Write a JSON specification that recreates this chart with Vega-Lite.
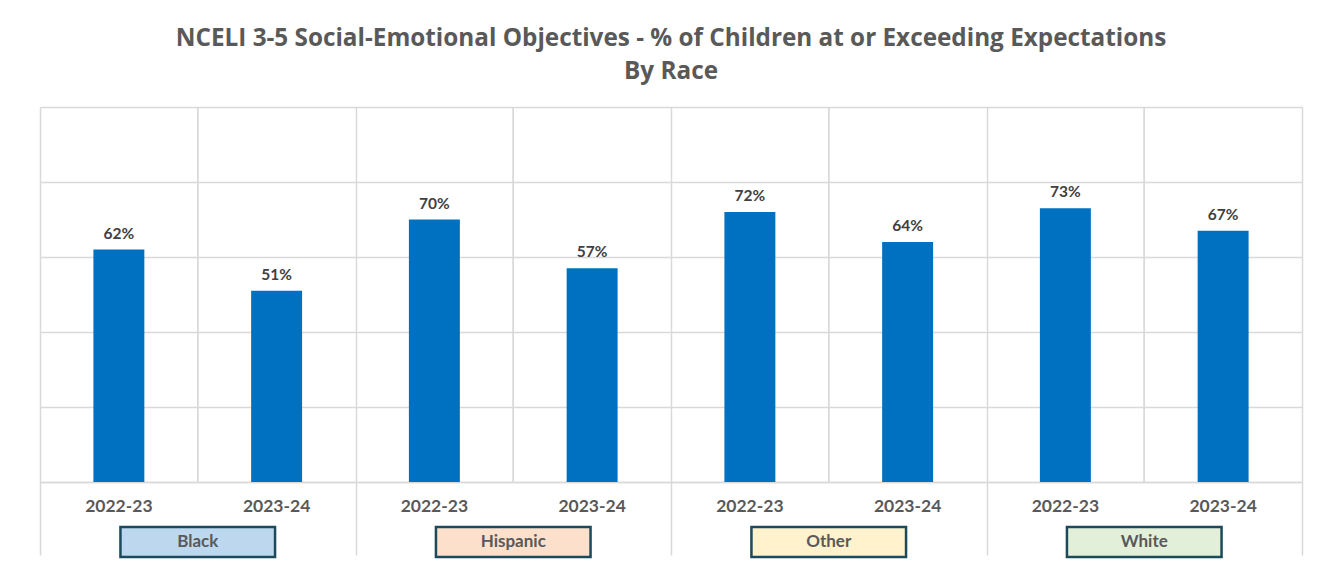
{
  "$schema": "https://vega.github.io/schema/vega-lite/v6.json",
  "autosize": "none",
  "width": 1262,
  "height": 375,
  "padding": {"left": 40, "top": 107, "right": 17, "bottom": 79},
  "background": "white",
  "config": {"view": {"stroke": null}, "font": "Lato"},
  "title": {
    "text": ["NCELI 3-5 Social-Emotional Objectives - % of Children at or Exceeding Expectations", "By Race"],
    "font": "Open Sans",
    "fontSize": 24.3,
    "fontWeight": "bold",
    "color": "#595959",
    "anchor": "middle",
    "lineHeight": 33,
    "offset": 22
  },
  "data": {
    "values": [
      {"race": "Black", "year": "2022-23", "pct": 0.62},
      {"race": "Black", "year": "2023-24", "pct": 0.51},
      {"race": "Hispanic", "year": "2022-23", "pct": 0.70},
      {"race": "Hispanic", "year": "2023-24", "pct": 0.57},
      {"race": "Other", "year": "2022-23", "pct": 0.72},
      {"race": "Other", "year": "2023-24", "pct": 0.64},
      {"race": "White", "year": "2022-23", "pct": 0.73},
      {"race": "White", "year": "2023-24", "pct": 0.67}
    ]
  },
  "encoding": {
    "x": {
      "field": "race",
      "type": "nominal",
      "sort": ["Black", "Hispanic", "Other", "White"],
      "scale": {"paddingInner": 0, "paddingOuter": 0},
      "axis": {
        "title": null,
        "labels": false,
        "tickBand": "extent",
        "ticks": true,
        "tickSize": 73,
        "tickColor": "#d9d9d9",
        "tickWidth": 1.5,
        "grid": true,
        "gridColor": "#d9d9d9",
        "gridWidth": 1.5,
        "domain": true,
        "domainColor": "#d9d9d9",
        "domainWidth": 1.5
      }
    }
  },
  "layer": [
    {
      "mark": {"type": "rule", "color": "#d9d9d9", "strokeWidth": 1.5},
      "encoding": {
        "y": {"datum": 0, "type": "quantitative"},
        "y2": {"datum": 1}
      }
    },
    {
      "mark": {"type": "bar", "color": "#0070c0"},
      "encoding": {
        "xOffset": {"field": "year", "type": "nominal", "scale": {"paddingInner": 0.677, "paddingOuter": 0.3385}},
        "y": {
          "field": "pct",
          "type": "quantitative",
          "scale": {"domain": [0, 1], "nice": false},
          "axis": {
            "title": null,
            "labels": false,
            "ticks": false,
            "domain": false,
            "grid": true,
            "gridColor": "#d9d9d9",
            "gridWidth": 1.5,
            "values": [0, 0.2, 0.4, 0.6, 0.8, 1]
          }
        }
      }
    },
    {
      "mark": {"type": "text", "baseline": "bottom", "dy": -8, "fontSize": 15.5, "fontWeight": "bold", "color": "#404040", "font": "Lato"},
      "encoding": {
        "xOffset": {"field": "year", "type": "nominal"},
        "y": {"field": "pct", "type": "quantitative"},
        "text": {"field": "pct", "type": "quantitative", "format": ".0%"}
      }
    },
    {
      "mark": {"type": "text", "baseline": "middle", "fontSize": 17.5, "fontWeight": "bold", "color": "#595959", "font": "Lato"},
      "encoding": {
        "xOffset": {"field": "year", "type": "nominal"},
        "y": {"datum": -0.067, "type": "quantitative"},
        "text": {"field": "year", "type": "nominal"}
      }
    },
    {
      "transform": [{"filter": "datum.year == '2022-23'"}],
      "mark": {"type": "bar", "width": {"band": 0.49}, "stroke": "#1b4a5c", "strokeWidth": 2.5},
      "encoding": {
        "y": {"datum": -0.12, "type": "quantitative"},
        "y2": {"datum": -0.2},
        "fill": {
          "field": "race",
          "type": "nominal",
          "scale": {"domain": ["Black", "Hispanic", "Other", "White"], "range": ["#bdd7ee", "#fce0cc", "#fff2cc", "#e2f0d9"]},
          "legend": null
        }
      }
    },
    {
      "transform": [{"filter": "datum.year == '2022-23'"}],
      "mark": {"type": "text", "baseline": "middle", "fontSize": 17, "fontWeight": "bold", "color": "#595959", "font": "Lato"},
      "encoding": {
        "y": {"datum": -0.16, "type": "quantitative"},
        "text": {"field": "race", "type": "nominal"}
      }
    }
  ]
}
